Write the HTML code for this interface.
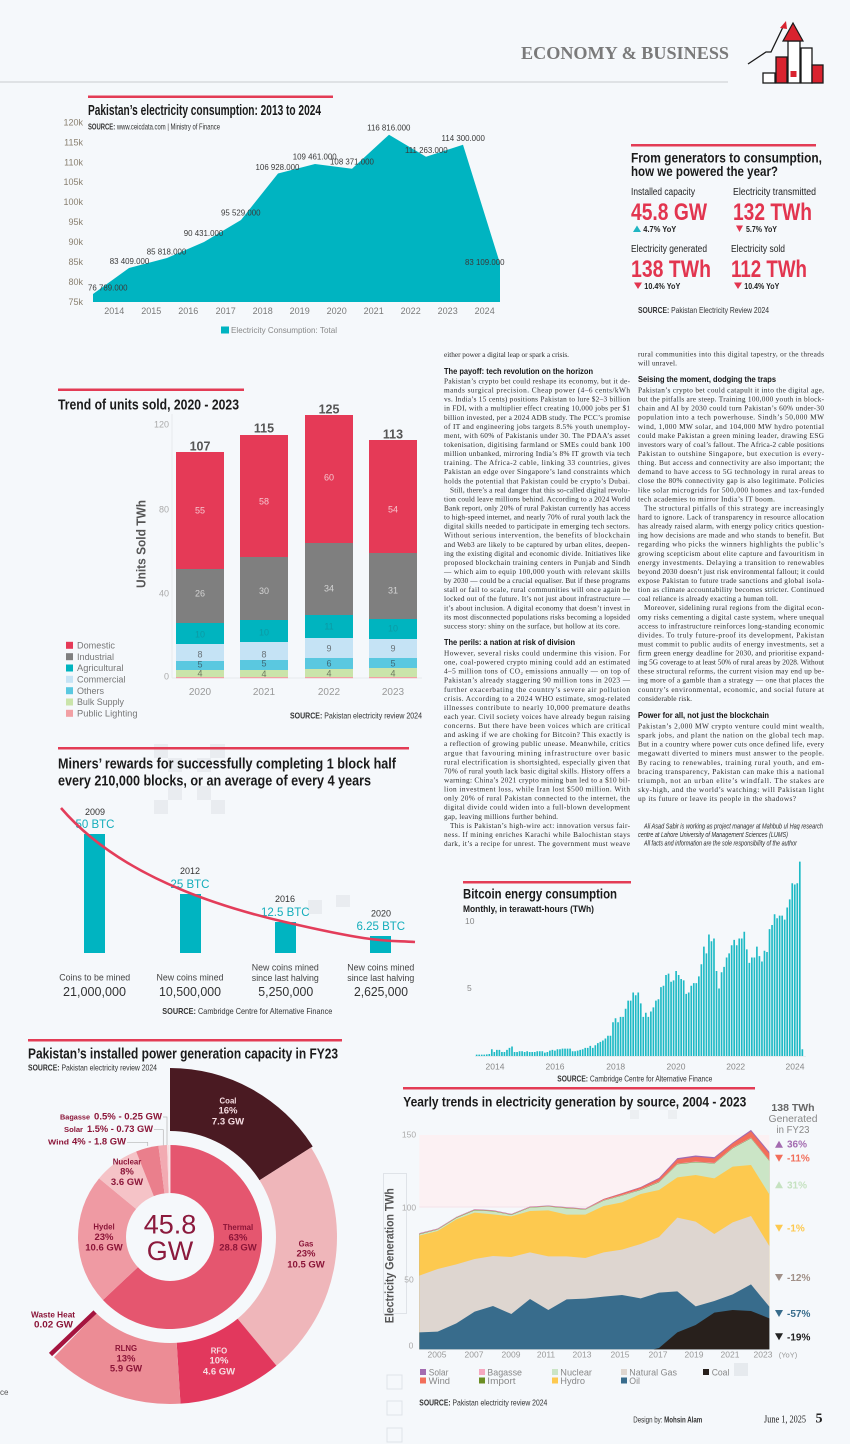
<!DOCTYPE html>
<html><head><meta charset="utf-8"><title>Economy &amp; Business</title>
<style>
html,body{margin:0;padding:0;background:#f5f8fb;}
svg{display:block}
.s{font-family:"Liberation Sans",sans-serif}
.n{font-family:"Liberation Sans Narrow","Liberation Sans",sans-serif}
.r{font-family:"Liberation Serif",serif}
.t{font-family:"Liberation Serif",serif;font-size:7.3px;fill:#2b2b2b}
.h{font-family:"Liberation Sans",sans-serif;font-size:8px;font-weight:bold;fill:#151515}
.ti{font-family:"Liberation Sans Narrow","Liberation Sans",sans-serif;font-weight:bold;fill:#1a1a1a}
.pl{font-family:"Liberation Sans",sans-serif;font-weight:bold;fill:#8b1538;text-anchor:middle}
</style></head><body>
<svg width="850" height="1444" viewBox="0 0 850 1444" xmlns="http://www.w3.org/2000/svg">
<rect width="850" height="1444" fill="#f5f8fb"/>

<!-- HEADER -->
<text x="521" y="59" class="r" font-weight="bold" font-size="18" fill="#7a7a7a" textLength="208" lengthAdjust="spacingAndGlyphs">ECONOMY &amp; BUSINESS</text>
<line x1="0" y1="82" x2="728" y2="82" stroke="#c9cbcf" stroke-width="1"/>
<g stroke="#1a1a1a" stroke-width="1.3">
<rect x="763" y="73" width="12" height="10" fill="#fff"/>
<rect x="776" y="57" width="11" height="26" fill="#d9232f"/>
<rect x="788" y="41" width="12" height="42" fill="#fff"/>
<rect x="801" y="48" width="11" height="35" fill="#fff"/>
<rect x="812" y="65" width="11" height="18" fill="#d9232f"/>
</g>
<polygon points="783,41 803,41 793,23" fill="#d9232f" stroke="#1a1a1a" stroke-width="1.2"/>
<rect x="790.5" y="71" width="6" height="6" fill="#d9232f"/>
<polyline points="748,64 766,52 771,52 783,27" fill="none" stroke="#1a1a1a" stroke-width="1.3"/>
<polygon points="786,21 780,28 787,29" fill="#d9232f"/>

<!-- CHART 1 -->
<rect x="88" y="95.5" width="245" height="2.5" fill="#e33c55"/>
<text x="88" y="115" class="ti" font-size="15" textLength="233" lengthAdjust="spacingAndGlyphs">Pakistan’s electricity consumption: 2013 to 2024</text>
<text x="88" y="129.5" class="n" font-size="8.5" fill="#333" textLength="132" lengthAdjust="spacingAndGlyphs"><tspan font-weight="bold">SOURCE:</tspan> www.ceicdata.com | Ministry of Finance</text>
<g class="s" font-size="9" fill="#8a8070" text-anchor="end">
<text x="83" y="125.5">120k</text><text x="83" y="145.5">115k</text><text x="83" y="165.5">110k</text>
<text x="83" y="185.2">105k</text><text x="83" y="205.2">100k</text><text x="83" y="225.2">95k</text>
<text x="83" y="245.2">90k</text><text x="83" y="265.2">85k</text><text x="83" y="285.2">80k</text><text x="83" y="305.2">75k</text>
</g>
<polygon points="93,302 93,294 129,268 167,258 204,242 241,220 278,173.5 315,164 352,168.7 389,134.7 426,156.7 463,144.7 500,263.5 500,302" fill="#00b4c1"/>
<g class="s" font-size="7.9" fill="#3a3a3a" text-anchor="middle">
<text x="107.8" y="290.6">76 789.000</text>
<text x="129.5" y="263.9">83 409.000</text>
<text x="166.5" y="254.6">85 818.000</text>
<text x="203.5" y="236.2">90 431.000</text>
<text x="240.8" y="215.6">95 529.000</text>
<text x="277.5" y="170.2">106 928.000</text>
<text x="314.7" y="159.6">109 461.000</text>
<text x="352" y="164.6">108 371.000</text>
<text x="388.8" y="130.6">116 816.000</text>
<text x="426.3" y="152.9">111 263.000</text>
<text x="463.2" y="140.9">114 300.000</text>
<text x="484.8" y="265.2">83 109.000</text>
</g>
<g class="s" font-size="9" fill="#7a7a7a" text-anchor="middle">
<text x="114.3" y="314">2014</text><text x="151.3" y="314">2015</text><text x="188.3" y="314">2016</text>
<text x="225.7" y="314">2017</text><text x="262.7" y="314">2018</text><text x="299.7" y="314">2019</text>
<text x="336.7" y="314">2020</text><text x="373.7" y="314">2021</text><text x="410.7" y="314">2022</text>
<text x="447.7" y="314">2023</text><text x="484.7" y="314">2024</text>
</g>
<rect x="221" y="326.5" width="8" height="7" fill="#00b4c1"/>
<text x="231" y="333" class="s" font-size="8.5" fill="#888" textLength="106" lengthAdjust="spacingAndGlyphs">Electricity Consumption: Total</text>

<!-- RIGHT PANEL -->
<rect x="631" y="144" width="185" height="2.5" fill="#e33c55"/>
<text x="631" y="162.5" class="ti" font-size="13.5" textLength="191" lengthAdjust="spacingAndGlyphs">From generators to consumption,</text>
<text x="631" y="176" class="ti" font-size="13.5" textLength="147" lengthAdjust="spacingAndGlyphs">how we powered the year?</text>
<g class="n" font-size="10" fill="#222">
<text x="631" y="195" textLength="64" lengthAdjust="spacingAndGlyphs">Installed capacity</text>
<text x="733" y="195" textLength="83" lengthAdjust="spacingAndGlyphs">Electricity transmitted</text>
<text x="631" y="252" textLength="76" lengthAdjust="spacingAndGlyphs">Electricity generated</text>
<text x="731" y="252" textLength="54" lengthAdjust="spacingAndGlyphs">Electricity sold</text>
</g>
<g class="n" font-size="24" font-weight="bold" fill="#e2354f">
<text x="631" y="220" textLength="76" lengthAdjust="spacingAndGlyphs">45.8 GW</text>
<text x="733" y="220" textLength="79" lengthAdjust="spacingAndGlyphs">132 TWh</text>
<text x="631" y="277" textLength="80" lengthAdjust="spacingAndGlyphs">138 TWh</text>
<text x="731" y="277" textLength="76" lengthAdjust="spacingAndGlyphs">112 TWh</text>
</g>
<polygon points="633,232 641,232 637,225.5" fill="#1fb5c2"/>
<polygon points="736,225.5 743,225.5 739.5,232" fill="#e2354f"/>
<polygon points="634,282.5 642,282.5 638,289" fill="#e2354f"/>
<polygon points="734,282.5 742,282.5 738,289" fill="#e2354f"/>
<g class="n" font-size="8.5" font-weight="bold" fill="#222">
<text x="643.3" y="232" textLength="33" lengthAdjust="spacingAndGlyphs">4.7% YoY</text>
<text x="746" y="232" textLength="31" lengthAdjust="spacingAndGlyphs">5.7% YoY</text>
<text x="644.3" y="289" textLength="36" lengthAdjust="spacingAndGlyphs">10.4% YoY</text>
<text x="744.3" y="289" textLength="35" lengthAdjust="spacingAndGlyphs">10.4% YoY</text>
</g>
<text x="638" y="313" class="n" font-size="8.5" fill="#333" textLength="131" lengthAdjust="spacingAndGlyphs"><tspan font-weight="bold">SOURCE:</tspan> Pakistan Electricity Review 2024</text>

<!-- TREND OF UNITS SOLD -->
<rect x="58" y="388.5" width="186" height="2.5" fill="#e33c55"/>
<text x="58" y="409.3" class="ti" font-size="14.5" textLength="181" lengthAdjust="spacingAndGlyphs">Trend of units sold, 2020 - 2023</text>
<line x1="172" y1="414" x2="172" y2="678" stroke="#e3e6ea" stroke-width="0.8"/>
<line x1="172" y1="678" x2="422" y2="678" stroke="#e3e6ea" stroke-width="0.8"/>
<g class="s" font-size="9" fill="#aaa" text-anchor="end">
<text x="169" y="427.3">120</text><text x="169" y="512.3">80</text><text x="169" y="596.5">40</text><text x="169" y="679.5">0</text>
</g>
<text transform="translate(145.5,544) rotate(-90)" class="s" font-size="12.5" font-weight="bold" fill="#555" text-anchor="middle" textLength="88" lengthAdjust="spacingAndGlyphs">Units Sold TWh</text>
<!-- bars -->
<g>
<rect x="176" y="452" width="48" height="117" fill="#e53a57"/>
<rect x="176" y="569" width="48" height="54" fill="#7f7f7f"/>
<rect x="176" y="623" width="48" height="21" fill="#00b4bf"/>
<rect x="176" y="644" width="48" height="17" fill="#c5e3f5"/>
<rect x="176" y="661" width="48" height="9" fill="#5ac8e0"/>
<rect x="176" y="670" width="48" height="7" fill="#cae4aa"/>
<rect x="176" y="677" width="48" height="1.2" fill="#f2a0a4"/>

<rect x="240" y="435" width="48" height="122" fill="#e53a57"/>
<rect x="240" y="557" width="48" height="63" fill="#7f7f7f"/>
<rect x="240" y="620" width="48" height="22" fill="#00b4bf"/>
<rect x="240" y="642" width="48" height="18" fill="#c5e3f5"/>
<rect x="240" y="660" width="48" height="10" fill="#5ac8e0"/>
<rect x="240" y="670" width="48" height="7" fill="#cae4aa"/>
<rect x="240" y="677" width="48" height="1.2" fill="#f2a0a4"/>

<rect x="305" y="415" width="48" height="128" fill="#e53a57"/>
<rect x="305" y="543" width="48" height="72" fill="#7f7f7f"/>
<rect x="305" y="615" width="48" height="23" fill="#00b4bf"/>
<rect x="305" y="638" width="48" height="20" fill="#c5e3f5"/>
<rect x="305" y="658" width="48" height="11" fill="#5ac8e0"/>
<rect x="305" y="669" width="48" height="8" fill="#cae4aa"/>
<rect x="305" y="677" width="48" height="1.2" fill="#f2a0a4"/>

<rect x="369" y="440" width="48" height="113" fill="#e53a57"/>
<rect x="369" y="553" width="48" height="66" fill="#7f7f7f"/>
<rect x="369" y="619" width="48" height="20" fill="#00b4bf"/>
<rect x="369" y="639" width="48" height="19" fill="#c5e3f5"/>
<rect x="369" y="658" width="48" height="10" fill="#5ac8e0"/>
<rect x="369" y="668" width="48" height="9" fill="#cae4aa"/>
<rect x="369" y="677" width="48" height="1.2" fill="#f2a0a4"/>
</g>
<g class="s" font-size="12.5" font-weight="bold" fill="#555" text-anchor="middle">
<text x="200" y="450.5">107</text><text x="264" y="432.3">115</text><text x="329" y="413.3">125</text><text x="393" y="438.3">113</text>
</g>
<g class="s" font-size="9" text-anchor="middle">
<g fill="#f6c6cf"><text x="200" y="513.4">55</text><text x="264" y="504.4">58</text><text x="329" y="480.4">60</text><text x="393" y="512.4">54</text></g>
<g fill="#d4d4d4"><text x="200" y="596.4">26</text><text x="264" y="593.9">30</text><text x="329" y="591.4">34</text><text x="393" y="593.4">31</text></g>
<g fill="#0b9aa4"><text x="200" y="637.4">10</text><text x="264" y="635.4">10</text><text x="329" y="629.4">11</text><text x="393" y="631.4">10</text></g>
<g fill="#6a7378"><text x="200" y="657.4">8</text><text x="264" y="657.4">8</text><text x="329" y="651.4">9</text><text x="393" y="651.4">9</text></g>
<g fill="#3f6a78"><text x="200" y="667.4">5</text><text x="264" y="666.4">5</text><text x="329" y="666.4">6</text><text x="393" y="666.4">5</text></g>
<g fill="#6d7a60"><text x="200" y="676.4">4</text><text x="264" y="677">4</text><text x="329" y="676.4">4</text><text x="393" y="676.4">4</text></g>
</g>
<g class="s" font-size="10" fill="#999" text-anchor="middle">
<text x="200" y="695">2020</text><text x="264" y="695">2021</text><text x="329" y="695">2022</text><text x="393" y="695">2023</text>
</g>
<g>
<rect x="66" y="641.8" width="7" height="7" fill="#e53a57"/>
<rect x="66" y="653.2" width="7" height="7" fill="#7f7f7f"/>
<rect x="66" y="664.5" width="7" height="7" fill="#00b4bf"/>
<rect x="66" y="675.8" width="7" height="7" fill="#c5e3f5"/>
<rect x="66" y="687.2" width="7" height="7" fill="#5ac8e0"/>
<rect x="66" y="698.5" width="7" height="7" fill="#cae4aa"/>
<rect x="66" y="709.8" width="7" height="7" fill="#f2a0a4"/>
</g>
<g class="s" font-size="9" fill="#777">
<text x="77" y="648.5" textLength="38" lengthAdjust="spacingAndGlyphs">Domestic</text>
<text x="77" y="659.9" textLength="37" lengthAdjust="spacingAndGlyphs">Industrial</text>
<text x="77" y="671.2" textLength="46.5" lengthAdjust="spacingAndGlyphs">Agricultural</text>
<text x="77" y="682.5" textLength="48.5" lengthAdjust="spacingAndGlyphs">Commercial</text>
<text x="77" y="693.9" textLength="27" lengthAdjust="spacingAndGlyphs">Others</text>
<text x="77" y="705.2" textLength="47" lengthAdjust="spacingAndGlyphs">Bulk Supply</text>
<text x="77" y="716.5" textLength="60.5" lengthAdjust="spacingAndGlyphs">Public Lighting</text>
</g>
<text x="290" y="718.5" class="n" font-size="8.5" fill="#333" textLength="132" lengthAdjust="spacingAndGlyphs"><tspan font-weight="bold">SOURCE:</tspan> Pakistan electricity review 2024</text>

<!-- MINERS -->
<g fill="#e9ecf0">
<rect x="154" y="744" width="14" height="14"/><rect x="210" y="744" width="15" height="14"/>
<rect x="168" y="758" width="14" height="14"/><rect x="197" y="758" width="14" height="14"/>
<rect x="168" y="786" width="14" height="14"/><rect x="197" y="786" width="14" height="14"/>
<rect x="154" y="800" width="14" height="14"/><rect x="211" y="800" width="14" height="14"/>
<rect x="308" y="900" width="14" height="14"/><rect x="336" y="895" width="14" height="12"/>
</g>
<rect x="58" y="747" width="351" height="2.5" fill="#e33c55"/>
<text x="58" y="768.3" class="ti" font-size="15" textLength="338" lengthAdjust="spacingAndGlyphs">Miners’ rewards for successfully completing 1 block half</text>
<text x="58" y="785.7" class="ti" font-size="15" textLength="313" lengthAdjust="spacingAndGlyphs">every 210,000 blocks, or an average of every 4 years</text>
<g fill="#00b4c1">
<rect x="84" y="834" width="21" height="119"/>
<rect x="180" y="894" width="21" height="59"/>
<rect x="275" y="922" width="21" height="31"/>
<rect x="370" y="936" width="21" height="17"/>
</g>
<g class="s" font-size="9" fill="#333" text-anchor="middle">
<text x="95" y="815">2009</text><text x="190" y="874">2012</text><text x="285" y="902">2016</text><text x="381" y="916.5">2020</text>
</g>
<g class="s" font-size="11.5" fill="#14adbb" text-anchor="middle">
<text x="95" y="828">50 BTC</text><text x="190" y="888">25 BTC</text><text x="285.3" y="916">12.5 BTC</text><text x="380.8" y="930">6.25 BTC</text>
</g>
<path d="M61,808 C110,865 190,900 285,922 S385,940 415,942" fill="none" stroke="#e33d5a" stroke-width="2.6"/>
<g class="s" font-size="8.8" fill="#444" text-anchor="middle">
<text x="94.7" y="980.5">Coins to be mined</text>
<text x="190" y="980.5">New coins mined</text>
<text x="285.3" y="970.5">New coins mined</text>
<text x="285.3" y="981">since last halving</text>
<text x="380.8" y="970.5">New coins mined</text>
<text x="380.8" y="981">since last halving</text>
</g>
<g class="s" font-size="13" fill="#333" text-anchor="middle">
<text x="94.5" y="996" textLength="63" lengthAdjust="spacingAndGlyphs">21,000,000</text>
<text x="190" y="996" textLength="62" lengthAdjust="spacingAndGlyphs">10,500,000</text>
<text x="285.8" y="996" textLength="55" lengthAdjust="spacingAndGlyphs">5,250,000</text>
<text x="381" y="996" textLength="54" lengthAdjust="spacingAndGlyphs">2,625,000</text>
</g>
<text x="162.3" y="1014" class="n" font-size="8.5" fill="#333" textLength="170" lengthAdjust="spacingAndGlyphs"><tspan font-weight="bold">SOURCE:</tspan> Cambridge Centre for Alternative Finance</text>

<!-- TEXT COLUMN 1 -->
<g class="t">
<text x="444" y="357" textLength="125">either power a digital leap or spark a crisis.</text>
<text x="444" y="383.5" textLength="186">Pakistan’s crypto bet could reshape its economy, but it de-</text>
<text x="444" y="392.6" textLength="186">mands surgical precision. Cheap power (4–6 cents/kWh</text>
<text x="444" y="401.6" textLength="186">vs. India’s 15 cents) positions Pakistan to lure $2–3 billion</text>
<text x="444" y="410.7" textLength="186">in FDI, with a multiplier effect creating 10,000 jobs per $1</text>
<text x="444" y="419.8" textLength="186">billion invested, per a 2024 ADB study. The PCC’s promise</text>
<text x="444" y="428.9" textLength="186">of IT and engineering jobs targets 8.5% youth unemploy-</text>
<text x="444" y="437.9" textLength="186">ment, with 60% of Pakistanis under 30. The PDAA’s asset</text>
<text x="444" y="447.0" textLength="186">tokenisation, digitising farmland or SMEs could bank 100</text>
<text x="444" y="456.1" textLength="186">million unbanked, mirroring India’s 8% IT growth via tech</text>
<text x="444" y="465.1" textLength="186">training. The Africa-2 cable, linking 33 countries, gives</text>
<text x="444" y="474.2" textLength="186">Pakistan an edge over Singapore’s land constraints which</text>
<text x="444" y="483.3" textLength="186">holds the potential that Pakistan could be crypto’s Dubai.</text>
<text x="450" y="492.3" textLength="180">Still, there’s a real danger that this so-called digital revolu-</text>
<text x="444" y="501.4" textLength="186">tion could leave millions behind. According to a 2024 World</text>
<text x="444" y="510.5" textLength="186">Bank report, only 20% of rural Pakistan currently has access</text>
<text x="444" y="519.6" textLength="186">to high-speed internet, and nearly 70% of rural youth lack the</text>
<text x="444" y="528.6" textLength="186">digital skills needed to participate in emerging tech sectors.</text>
<text x="444" y="537.7" textLength="186">Without serious intervention, the benefits of blockchain</text>
<text x="444" y="546.8" textLength="186">and Web3 are likely to be captured by urban elites, deepen-</text>
<text x="444" y="555.8" textLength="186">ing the existing digital and economic divide. Initiatives like</text>
<text x="444" y="564.9" textLength="186">proposed blockchain training centers in Punjab and Sindh</text>
<text x="444" y="574.0" textLength="186">— which aim to equip 100,000 youth with relevant skills</text>
<text x="444" y="583.0" textLength="186">by 2030 — could be a crucial equaliser. But if these programs</text>
<text x="444" y="592.1" textLength="186">stall or fail to scale, rural communities will once again be</text>
<text x="444" y="601.2" textLength="186">locked out of the future. It’s not just about infrastructure —</text>
<text x="444" y="610.3" textLength="186">it’s about inclusion. A digital economy that doesn’t invest in</text>
<text x="444" y="619.3" textLength="186">its most disconnected populations risks becoming a lopsided</text>
<text x="444" y="628.4" textLength="176">success story: shiny on the surface, but hollow at its core.</text>
<text x="444" y="655.5" textLength="186">However, several risks could undermine this vision. For</text>
<text x="444" y="664.6" textLength="186">one, coal-powered crypto mining could add an estimated</text>
<text x="444" y="673.6" textLength="186">4–5 million tons of CO₂ emissions annually — on top of</text>
<text x="444" y="682.7" textLength="186">Pakistan’s already staggering 90 million tons in 2023 —</text>
<text x="444" y="691.8" textLength="186">further exacerbating the country’s severe air pollution</text>
<text x="444" y="700.9" textLength="186">crisis. According to a 2024 WHO estimate, smog-related</text>
<text x="444" y="709.9" textLength="186">illnesses contribute to nearly 10,000 premature deaths</text>
<text x="444" y="719.0" textLength="186">each year. Civil society voices have already begun raising</text>
<text x="444" y="728.1" textLength="186">concerns. But there have been voices which are critical</text>
<text x="444" y="737.1" textLength="186">and asking if we are choking for Bitcoin? This exactly is</text>
<text x="444" y="746.2" textLength="186">a reflection of growing public unease. Meanwhile, critics</text>
<text x="444" y="755.3" textLength="186">argue that favouring mining infrastructure over basic</text>
<text x="444" y="764.3" textLength="186">rural electrification is shortsighted, especially given that</text>
<text x="444" y="773.4" textLength="186">70% of rural youth lack basic digital skills. History offers a</text>
<text x="444" y="782.5" textLength="186">warning: China’s 2021 crypto mining ban led to a $10 bil-</text>
<text x="444" y="791.6" textLength="186">lion investment loss, while Iran lost $500 million. With</text>
<text x="444" y="800.6" textLength="186">only 20% of rural Pakistan connected to the internet, the</text>
<text x="444" y="809.7" textLength="186">digital divide could widen into a full-blown development</text>
<text x="444" y="818.8" textLength="114">gap, leaving millions further behind.</text>
<text x="450" y="827.8" textLength="180">This is Pakistan’s high-wire act: innovation versus fair-</text>
<text x="444" y="836.9" textLength="186">ness. If mining enriches Karachi while Balochistan stays</text>
<text x="444" y="846.0" textLength="186">dark, it’s a recipe for unrest. The government must weave</text>
</g>
<text x="444" y="374" class="h" textLength="149" lengthAdjust="spacingAndGlyphs">The payoff: tech revolution on the horizon</text>
<text x="444" y="645" class="h" textLength="131" lengthAdjust="spacingAndGlyphs">The perils: a nation at risk of division</text>

<!-- TEXT COLUMN 2 -->
<g class="t">
<text x="638" y="356.5" textLength="186">rural communities into this digital tapestry, or the threads</text>
<text x="638" y="365.6" textLength="39">will unravel.</text>
<text x="638" y="392.5" textLength="186">Pakistan’s crypto bet could catapult it into the digital age,</text>
<text x="638" y="401.6" textLength="186">but the pitfalls are steep. Training 100,000 youth in block-</text>
<text x="638" y="410.6" textLength="186">chain and AI by 2030 could turn Pakistan’s 60% under-30</text>
<text x="638" y="419.7" textLength="186">population into a tech powerhouse. Sindh’s 50,000 MW</text>
<text x="638" y="428.8" textLength="186">wind, 1,000 MW solar, and 104,000 MW hydro potential</text>
<text x="638" y="437.9" textLength="186">could make Pakistan a green mining leader, drawing ESG</text>
<text x="638" y="446.9" textLength="186">investors wary of coal’s fallout. The Africa-2 cable positions</text>
<text x="638" y="456.0" textLength="186">Pakistan to outshine Singapore, but execution is every-</text>
<text x="638" y="465.1" textLength="186">thing. But access and connectivity are also important; the</text>
<text x="638" y="474.1" textLength="186">demand to have access to 5G technology in rural areas to</text>
<text x="638" y="483.2" textLength="186">close the 80% connectivity gap is also legitimate. Policies</text>
<text x="638" y="492.3" textLength="186">like solar microgrids for 500,000 homes and tax-funded</text>
<text x="638" y="501.3" textLength="137">tech academies to mirror India’s IT boom.</text>
<text x="644" y="510.4" textLength="180">The structural pitfalls of this strategy are increasingly</text>
<text x="638" y="519.5" textLength="186">hard to ignore. Lack of transparency in resource allocation</text>
<text x="638" y="528.6" textLength="186">has already raised alarm, with energy policy critics question-</text>
<text x="638" y="537.6" textLength="186">ing how decisions are made and who stands to benefit. But</text>
<text x="638" y="546.7" textLength="186">regarding who picks the winners highlights the public’s</text>
<text x="638" y="555.8" textLength="186">growing scepticism about elite capture and favouritism in</text>
<text x="638" y="564.8" textLength="186">energy investments. Delaying a transition to renewables</text>
<text x="638" y="573.9" textLength="186">beyond 2030 doesn’t just risk environmental fallout; it could</text>
<text x="638" y="583.0" textLength="186">expose Pakistan to future trade sanctions and global isola-</text>
<text x="638" y="592.0" textLength="186">tion as climate accountability becomes stricter. Continued</text>
<text x="638" y="601.1" textLength="140">coal reliance is already exacting a human toll.</text>
<text x="644" y="610.2" textLength="180">Moreover, sidelining rural regions from the digital econ-</text>
<text x="638" y="619.3" textLength="186">omy risks cementing a digital caste system, where unequal</text>
<text x="638" y="628.3" textLength="186">access to infrastructure reinforces long-standing economic</text>
<text x="638" y="637.4" textLength="186">divides. To truly future-proof its development, Pakistan</text>
<text x="638" y="646.5" textLength="186">must commit to public audits of energy investments, set a</text>
<text x="638" y="655.5" textLength="186">firm green energy deadline for 2030, and prioritise expand-</text>
<text x="638" y="664.6" textLength="186">ing 5G coverage to at least 50% of rural areas by 2028. Without</text>
<text x="638" y="673.7" textLength="186">these structural reforms, the current vision may end up be-</text>
<text x="638" y="682.7" textLength="186">ing more of a gamble than a strategy — one that places the</text>
<text x="638" y="691.8" textLength="186">country’s environmental, economic, and social future at</text>
<text x="638" y="700.9" textLength="54">considerable risk.</text>
<text x="638" y="728.5" textLength="186">Pakistan’s 2,000 MW crypto venture could mint wealth,</text>
<text x="638" y="737.6" textLength="186">spark jobs, and plant the nation on the global tech map.</text>
<text x="638" y="746.6" textLength="186">But in a country where power cuts once defined life, every</text>
<text x="638" y="755.7" textLength="186">megawatt diverted to miners must answer to the people.</text>
<text x="638" y="764.8" textLength="186">By racing to renewables, training rural youth, and em-</text>
<text x="638" y="773.9" textLength="186">bracing transparency, Pakistan can make this a national</text>
<text x="638" y="782.9" textLength="186">triumph, not an urban elite’s windfall. The stakes are</text>
<text x="638" y="792.0" textLength="186">sky-high, and the world’s watching: will Pakistan light</text>
<text x="638" y="801.1" textLength="158">up its future or leave its people in the shadows?</text>
</g>
<text x="638" y="382" class="h" textLength="138" lengthAdjust="spacingAndGlyphs">Seising the moment, dodging the traps</text>
<text x="638" y="718" class="h" textLength="131" lengthAdjust="spacingAndGlyphs">Power for all, not just the blockchain</text>
<g class="n" font-size="7" font-style="italic" fill="#2b2b2b">
<text x="644" y="828.5" textLength="179" lengthAdjust="spacingAndGlyphs">Ali Asad Sabir is working as project manager at Mahbub ul Haq research</text>
<text x="638" y="837" textLength="150" lengthAdjust="spacingAndGlyphs">centre at Lahore University of Management Sciences (LUMS)</text>
<text x="644" y="845.5" textLength="153" lengthAdjust="spacingAndGlyphs">All facts and information are the sole responsibility of the author</text>
</g>

<!-- BITCOIN ENERGY -->
<rect x="463" y="881" width="168" height="2.5" fill="#e33c55"/>
<text x="463" y="898.3" class="ti" font-size="13.5" textLength="154" lengthAdjust="spacingAndGlyphs">Bitcoin energy consumption</text>
<text x="463" y="912" class="ti" font-size="9" textLength="131" lengthAdjust="spacingAndGlyphs">Monthly, in terawatt-hours (TWh)</text>
<g class="s" font-size="8.5" fill="#888">
<text x="465" y="924">10</text><text x="467" y="991">5</text>
</g>
<g transform="translate(450,1056) scale(0.33333,-13.5)">
<path fill="#1fbac5" d="M77.5,0v.1h5v-.1m2.574,0v.1h5v-.1m2.574,0v.1h5v-.1m2.574,0v.1h5v-.1m2.574,0v.12h5v-.12m2.574,0v.15h5v-.15m2.574,0v.5h5v-.5m2.574,0v.3h5v-.3m2.574,0v.45h5v-.45m2.574,0v.45h5v-.45m2.574,0v.3h5v-.3m2.574,0v.3h5v-.3m2.574,0v.45h5v-.45m2.574,0v.6h5v-.6m2.574,0v.7h5v-.7m2.574,0v.3h5v-.3m2.574,0v.3h5v-.3m2.574,0v.35h5v-.35m2.574,0v.35h5v-.35m2.574,0v.3h5v-.3m2.574,0v.35h5v-.35m2.574,0v.3h5v-.3m2.574,0v.3h5v-.3m2.574,0v.3h5v-.3m2.574,0v.35h5v-.35m2.574,0v.35h5v-.35m2.574,0v.35h5v-.35m2.574,0v.25h5v-.25m2.574,0v.3h5v-.3m2.574,0v.4h5v-.4m2.574,0v.45h5v-.45m2.574,0v.4h5v-.4m2.574,0v.5h5v-.5m2.574,0v.5h5v-.5m2.574,0v.55h5v-.55m2.574,0v.55h5v-.55m2.574,0v.55h5v-.55m2.574,0v.55h5v-.55m2.574,0v.35h5v-.35m2.574,0v.35h5v-.35m2.574,0v.4h5v-.4m2.574,0v.45h5v-.45m2.574,0v.5h5v-.5m2.574,0v.6h5v-.6m2.574,0v.6h5v-.6m2.574,0v.75h5v-.75m2.574,0v.6h5v-.6m2.574,0v.8h5v-.8m2.574,0v.95h5v-.95m2.574,0v1.05h5v-1.05m2.574,0v1.15h5v-1.15m2.574,0v1.3h5v-1.3m2.574,0v1.5h5v-1.5m2.574,0v1.5h5v-1.5m2.574,0v2.5h5v-2.5m2.574,0v2.8h5v-2.8m2.574,0v2.5h5v-2.5m2.574,0v2.9h5v-2.9m2.574,0v2.9h5v-2.9m2.574,0v3.5h5v-3.5m2.574,0v4.1h5v-4.1m2.574,0v4.1h5v-4.1m2.574,0v4.7h5v-4.7m2.574,0v4.5h5v-4.5m2.574,0v4.7h5v-4.7m2.574,0v3.9h5v-3.9m2.574,0v2.9h5v-2.9m2.574,0v3.2h5v-3.2m2.574,0v2.9h5v-2.9m2.574,0v3.3h5v-3.3m2.574,0v3.6h5v-3.6m2.574,0v4.1h5v-4.1m2.574,0v4.2h5v-4.2m2.574,0v5.1h5v-5.1m2.574,0v5.2h5v-5.2m2.574,0v6h5v-6m2.574,0v6.1h5v-6.1m2.574,0v5.5h5v-5.5m2.574,0v5.6h5v-5.6m2.574,0v6.3h5v-6.3m2.574,0v6h5v-6m2.574,0v5.7h5v-5.7m2.574,0v5.6h5v-5.6m2.574,0v4.6h5v-4.6m2.574,0v4.7h5v-4.7m2.574,0v5.2h5v-5.2m2.574,0v5.4h5v-5.4m2.574,0v5.4h5v-5.4m2.574,0v5.9h5v-5.9m2.574,0v6.8h5v-6.8m2.574,0v8.1h5v-8.1m2.574,0v7.6h5v-7.6m2.574,0v9h5v-9m2.574,0v8.5h5v-8.5m2.574,0v8.7h5v-8.7m2.574,0v6.3h5v-6.3m2.574,0v5h5v-5m2.574,0v6.2h5v-6.2m2.574,0v6.6h5v-6.6m2.574,0v7.3h5v-7.3m2.574,0v7.6h5v-7.6m2.574,0v8.2h5v-8.2m2.574,0v8.6h5v-8.6m2.574,0v8.2h5v-8.2m2.574,0v8.7h5v-8.7m2.574,0v8.7h5v-8.7m2.574,0v9.2h5v-9.2m2.574,0v7.9h5v-7.9m2.574,0v6.9h5v-6.9m2.574,0v7.3h5v-7.3m2.574,0v7.3h5v-7.3m2.574,0v8.1h5v-8.1m2.574,0v7.4h5v-7.4m2.574,0v7h5v-7m2.574,0v7.8h5v-7.8m2.574,0v7.7h5v-7.7m2.574,0v9.4h5v-9.4m2.574,0v9.7h5v-9.7m2.574,0v10.5h5v-10.5m2.574,0v10.2h5v-10.2m2.574,0v10.4h5v-10.4m2.574,0v10.4h5v-10.4m2.574,0v10.1h5v-10.1m2.574,0v11h5v-11m2.574,0v11.6h5v-11.6m2.574,0v12.8h5v-12.8m2.574,0v12.7h5v-12.7m2.574,0v12.8h5v-12.8m2.574,0v14.4h5v-14.4m2.574,0v.5h5v-.5m2.574,0"/>
</g>
<line x1="475" y1="1056.3" x2="806" y2="1056.3" stroke="#dfe3e7" stroke-width="0.6"/>
<g class="s" font-size="8.5" fill="#888" text-anchor="middle">
<text x="495" y="1069.5">2014</text><text x="555" y="1069.5">2016</text><text x="615.7" y="1069.5">2018</text>
<text x="676" y="1069.5">2020</text><text x="735.7" y="1069.5">2022</text><text x="795" y="1069.5">2024</text>
</g>
<text x="557.3" y="1081.5" class="n" font-size="8.5" fill="#333" textLength="155" lengthAdjust="spacingAndGlyphs"><tspan font-weight="bold">SOURCE:</tspan> Cambridge Centre for Alternative Finance</text>

<!-- PIE / DONUT -->
<rect x="28" y="1039" width="314" height="2.5" fill="#e33c55"/>
<text x="28" y="1058.3" class="ti" font-size="14.5" textLength="310" lengthAdjust="spacingAndGlyphs">Pakistan’s installed power generation capacity in FY23</text>
<text x="28" y="1070.7" class="n" font-size="8.5" fill="#333" textLength="129" lengthAdjust="spacingAndGlyphs"><tspan font-weight="bold">SOURCE:</tspan> Pakistan electricity review 2024</text>
<!-- outer ring -->
<path d="M170,1237 L170,1068 A169,169 0 0,1 312.69,1146.45 Z" fill="#4a1a22"/>
<path d="M170,1237 L311,1147.52 A167,167 0 0,1 276.45,1365.67 Z" fill="#efb6ba"/>
<path d="M170,1237 L276.45,1365.67 A167,167 0 0,1 180.49,1403.67 Z" fill="#e2385d"/>
<path d="M170,1237 L180.49,1403.67 A167,167 0 0,1 53.99,1357.12 Z" fill="#ec8c95"/>
<line x1="95.8" y1="1311.2" x2="50.5" y2="1354.5" stroke="#a5143f" stroke-width="4.5"/>
<circle cx="170" cy="1237" r="106" fill="#f5f8fb"/>
<!-- inner ring -->
<path d="M170,1237 L170,1145 A92,92 0 1,1 102.93,1299.97 Z" fill="#e5566f"/>
<path d="M170,1237 L102.93,1299.97 A92,92 0 0,1 99.11,1178.36 Z" fill="#ef9aa3"/>
<path d="M170,1237 L99.11,1178.36 A92,92 0 0,1 136.13,1151.46 Z" fill="#f5c3c7"/>
<path d="M170,1237 L136.13,1151.46 A92,92 0 0,1 158.47,1145.73 Z" fill="#ea7f8c"/>
<path d="M170,1237 L158.47,1145.73 A92,92 0 0,1 167.11,1145.05 Z" fill="#f2aab2"/>
<path d="M170,1237 L167.11,1145.05 A92,92 0 0,1 170,1145 Z" fill="#f8dde0"/>
<line x1="170" y1="1237" x2="170" y2="1145" stroke="#f5f8fb" stroke-width="0.8"/>
<circle cx="170" cy="1237" r="44" fill="#f5f8fb"/>
<g class="s" fill="#8b1a3d" text-anchor="middle" font-size="27">
<text x="170" y="1233.3">45.8</text><text x="170" y="1260">GW</text>
</g>
<!-- leader lines -->
<g fill="none" stroke="#b5b5b5" stroke-width="0.7">
<polyline points="127,1142.3 147.7,1142.3 147.7,1146"/>
<polyline points="154,1129.7 163.3,1129.7 163.3,1145.5"/>
<polyline points="163,1117 167,1117 167,1145"/>
</g>
<g class="s" font-weight="bold" fill="#8b1538">
<text x="60" y="1119.3" font-size="7.5" textLength="30" lengthAdjust="spacingAndGlyphs">Bagasse</text>
<text x="94" y="1119.3" font-size="9" textLength="68" lengthAdjust="spacingAndGlyphs">0.5% - 0.25 GW</text>
<text x="64" y="1132" font-size="7.5" textLength="19" lengthAdjust="spacingAndGlyphs">Solar</text>
<text x="87" y="1132" font-size="9" textLength="66" lengthAdjust="spacingAndGlyphs">1.5% - 0.73 GW</text>
<text x="48" y="1144.7" font-size="7.5" textLength="21" lengthAdjust="spacingAndGlyphs">Wind</text>
<text x="72" y="1144.7" font-size="9" textLength="54" lengthAdjust="spacingAndGlyphs">4% - 1.8 GW</text>
<text x="31" y="1317.3" font-size="8" textLength="44" lengthAdjust="spacingAndGlyphs">Waste Heat</text>
<text x="34" y="1327.7" font-size="9" textLength="39" lengthAdjust="spacingAndGlyphs">0.02 GW</text>
</g>
<g class="pl">
<text x="127" y="1164.3" font-size="7.8">Nuclear</text><text x="127" y="1174.7" font-size="9.5">8%</text><text x="127" y="1185" font-size="9.5">3.6 GW</text>
<text x="104" y="1229.7" font-size="7.8">Hydel</text><text x="104" y="1240" font-size="9.5">23%</text><text x="104" y="1250.7" font-size="9.5">10.6 GW</text>
<text x="238" y="1230" font-size="7.8">Thermal</text><text x="238" y="1240.3" font-size="9.5">63%</text><text x="238" y="1250.7" font-size="9.5">28.8 GW</text>
<text x="306" y="1246.3" font-size="7.8">Gas</text><text x="306" y="1256.7" font-size="9.5">23%</text><text x="306" y="1267.3" font-size="9.5">10.5 GW</text>
<text x="126" y="1351" font-size="7.8">RLNG</text><text x="126" y="1361.3" font-size="9.5">13%</text><text x="126" y="1371.7" font-size="9.5">5.9 GW</text>
</g>
<g class="pl" style="fill:#f6dde2">
<text x="228" y="1103.3" font-size="7.8">Coal</text><text x="228" y="1113.7" font-size="9.5">16%</text><text x="228" y="1124.3" font-size="9.5">7.3 GW</text>
<text x="219" y="1353.3" font-size="7.8">RFO</text><text x="219" y="1363.7" font-size="9.5">10%</text><text x="219" y="1374.3" font-size="9.5">4.6 GW</text>
</g>
<text x="0" y="1395" class="s" font-size="8" fill="#555">ce</text>

<!-- YEARLY TRENDS -->
<rect x="383.5" y="1173.5" width="23" height="140" fill="none" stroke="#dfe3e8" stroke-width="1"/>
<rect x="387" y="1375" width="15" height="14" fill="none" stroke="#dfe3e8" stroke-width="1"/>
<rect x="387" y="1401" width="15" height="14" fill="none" stroke="#dfe3e8" stroke-width="1"/>
<rect x="387" y="1428" width="15" height="14" fill="none" stroke="#dfe3e8" stroke-width="1"/>
<rect x="734" y="1363" width="14" height="13" fill="#e6eaee"/>
<g fill="#eceff2">
<rect x="630" y="1110" width="9" height="9"/><rect x="639" y="1101" width="9" height="9"/><rect x="659" y="1101" width="9" height="9"/><rect x="668" y="1110" width="9" height="9"/>
</g>
<rect x="403" y="1087" width="352" height="2.5" fill="#e33c55"/>
<text x="403.3" y="1106.7" class="ti" font-size="14" textLength="343" lengthAdjust="spacingAndGlyphs">Yearly trends in electricity generation by source, 2004 - 2023</text>
<rect x="419.3" y="1135" width="350" height="71.3" fill="#fcf1f3"/>
<line x1="419.3" y1="1207" x2="769.3" y2="1207" stroke="#f4dbe0" stroke-width="0.7"/>
<g transform="translate(380,1085) scale(0.33333)">
<polygon fill="#a36bb0" points="118,444.5 173,430.5 229,395.5 284,372.5 339,375.5 394,386.5 450,364.5 505,361.5 560,366.5 616,370.5 671,341.5 726,324.5 782,306 837,278.5 892,219.5 947,211.5 1003,216.5 1058,172.5 1113,134.5 1168,200.5 1168,793 118,793"/>
<polygon fill="#f26e5a" points="118,445.5 173,431.5 229,396.5 284,373.5 339,376.5 394,387.5 450,365.5 505,362.5 560,367.5 616,371.5 671,342.5 726,325.5 782,307.5 837,281.5 892,223.5 947,215.5 1003,220.5 1058,175.5 1113,139.5 1168,205.5 1168,793 118,793"/>
<polygon fill="#f6a8c0" points="118,445.5 173,431.5 229,396.5 284,373.5 339,376.5 394,387.5 450,365.5 505,362.5 560,367.5 616,371.5 671,344.5 726,329.5 782,312.5 837,289.5 892,235.5 947,229.5 1003,233.5 1058,187.5 1113,157.5 1168,225.5 1168,793 118,793"/>
<polygon fill="#6b8e23" points="118,447 173,433 229,398 284,375 339,378 394,389 450,367 505,364 560,369 616,373 671,346 726,331 782,314 837,291 892,237 947,231 1003,235 1058,189 1113,159 1168,227 1168,793 118,793"/>
<polygon fill="#cbe5c6" points="118,448 173,434 229,399 284,376 339,379 394,390 450,368 505,365 560,370 616,374 671,347 726,332 782,315 837,292 892,238 947,232 1003,236 1058,190 1113,160 1168,228 1168,793 118,793"/>
<polygon fill="#fdc94f" points="118,452 173,438 229,403 284,383 339,388 394,394 450,378 505,376 560,389 616,389 671,363 726,352 782,327 837,315 892,277 947,270 1003,280 1058,245 1113,240 1168,328 1168,793 118,793"/>
<polygon fill="#ded6d0" points="118,572 173,552 229,538 284,522 339,513 394,516 450,502 505,514 560,514 616,519 671,502 726,494 782,477 837,456 892,398 947,410 1003,447 1058,412 1113,393 1168,483 1168,793 118,793"/>
<polygon fill="#386c8c" points="118,742 173,740 229,715 284,680 339,663 394,687 450,642 505,675 560,643 616,641 671,635 726,630 782,640 837,623 892,619 947,664 1003,648 1058,628 1113,598 1168,665 1168,793 118,793"/>
<polygon fill="#28201c" points="820,793 837,789 892,742 947,720 1003,683 1058,675 1113,678 1168,700 1168,793"/>
</g>
<g class="s" font-size="8.5" fill="#aaa" text-anchor="middle">
<text x="409" y="1137.7">150</text><text x="409" y="1210.3">100</text><text x="409" y="1282.7">50</text><text x="411" y="1348.3">0</text>
</g>
<text transform="translate(393.5,1255.7) rotate(-90)" class="s" font-size="11.5" font-weight="bold" fill="#555" text-anchor="middle" textLength="135" lengthAdjust="spacingAndGlyphs">Electricity Generation TWh</text>
<g class="s" font-size="8.5" fill="#999" text-anchor="middle">
<text x="437" y="1357.5">2005</text><text x="474" y="1357.5">2007</text><text x="511" y="1357.5">2009</text>
<text x="546" y="1357.5">2011</text><text x="582" y="1357.5">2013</text><text x="620" y="1357.5">2015</text>
<text x="658" y="1357.5">2017</text><text x="694" y="1357.5">2019</text><text x="730" y="1357.5">2021</text>
<text x="763" y="1357.5">2023</text><text x="788" y="1357.5" font-size="7.5">(YoY)</text>
</g>
<g class="s" text-anchor="middle">
<text x="793" y="1111" font-size="10.5" font-weight="bold" fill="#666">138 TWh</text>
<text x="793" y="1122" font-size="10.5" fill="#888" textLength="49" lengthAdjust="spacingAndGlyphs">Generated</text>
<text x="793" y="1133" font-size="10.5" fill="#888" textLength="33" lengthAdjust="spacingAndGlyphs">in FY23</text>
</g>
<polygon points="775,1147.7 783,1147.7 779,1140.7" fill="#a36bb0"/>
<polygon points="775,1154.7 783,1154.7 779,1161.7" fill="#f26e5a"/>
<polygon points="775,1188.3 783,1188.3 779,1181.3" fill="#c5e2c0"/>
<polygon points="775,1224.7 783,1224.7 779,1231.7" fill="#fdc94f"/>
<polygon points="775,1274 783,1274 779,1281" fill="#a09088"/>
<polygon points="775,1310 783,1310 779,1317" fill="#386c8c"/>
<polygon points="775,1333.3 783,1333.3 779,1340.3" fill="#222"/>
<g class="s" font-size="10" font-weight="bold">
<text x="787" y="1147.7" fill="#a36bb0">36%</text>
<text x="787" y="1161.7" fill="#f26e5a">-11%</text>
<text x="787" y="1188.3" fill="#c5e2c0">31%</text>
<text x="787" y="1231.7" fill="#fdc94f">-1%</text>
<text x="787" y="1281" fill="#a09088">-12%</text>
<text x="787" y="1317" fill="#386c8c">-57%</text>
<text x="787" y="1340.3" fill="#222">-19%</text>
</g>
<g>
<rect x="420" y="1369" width="6" height="6" fill="#a36bb0"/>
<rect x="420" y="1377.5" width="6" height="6" fill="#f26e5a"/>
<rect x="479" y="1369" width="6" height="6" fill="#f6a8c0"/>
<rect x="479" y="1377.5" width="6" height="6" fill="#6b8e23"/>
<rect x="552" y="1369" width="6" height="6" fill="#cbe5c6"/>
<rect x="552" y="1377.5" width="6" height="6" fill="#fdc94f"/>
<rect x="621" y="1369" width="6" height="6" fill="#ded6d0"/>
<rect x="621" y="1377.5" width="6" height="6" fill="#386c8c"/>
<rect x="703" y="1369" width="6" height="6" fill="#28201c"/>
</g>
<g class="s" font-size="9" fill="#888">
<text x="428.7" y="1375.3" textLength="19.7" lengthAdjust="spacingAndGlyphs">Solar</text>
<text x="428.7" y="1383.8" textLength="21.3" lengthAdjust="spacingAndGlyphs">Wind</text>
<text x="487.3" y="1375.3" textLength="34.7" lengthAdjust="spacingAndGlyphs">Bagasse</text>
<text x="487.3" y="1383.8" textLength="28.3" lengthAdjust="spacingAndGlyphs">Import</text>
<text x="560.3" y="1375.3" textLength="31.7" lengthAdjust="spacingAndGlyphs">Nuclear</text>
<text x="560.3" y="1383.8" textLength="24.7" lengthAdjust="spacingAndGlyphs">Hydro</text>
<text x="629.3" y="1375.3" textLength="47.7" lengthAdjust="spacingAndGlyphs">Natural Gas</text>
<text x="629.3" y="1383.8" textLength="10.7" lengthAdjust="spacingAndGlyphs">Oil</text>
<text x="711.7" y="1375.3" textLength="17.7" lengthAdjust="spacingAndGlyphs">Coal</text>
</g>
<text x="419.3" y="1405.7" class="n" font-size="8.5" fill="#333" textLength="128" lengthAdjust="spacingAndGlyphs"><tspan font-weight="bold">SOURCE:</tspan> Pakistan electricity review 2024</text>

<!-- FOOTER -->
<text x="633.3" y="1422.3" class="n" font-size="8.5" fill="#333" textLength="69" lengthAdjust="spacingAndGlyphs">Design by: <tspan font-weight="bold">Mohsin Alam</tspan></text>
<text x="764" y="1422.3" class="r" font-size="10" fill="#222" textLength="42" lengthAdjust="spacingAndGlyphs">June 1, 2025</text>
<text x="815.5" y="1422.5" class="r" font-size="14" font-weight="bold" fill="#222">5</text>
</svg>
</body></html>
